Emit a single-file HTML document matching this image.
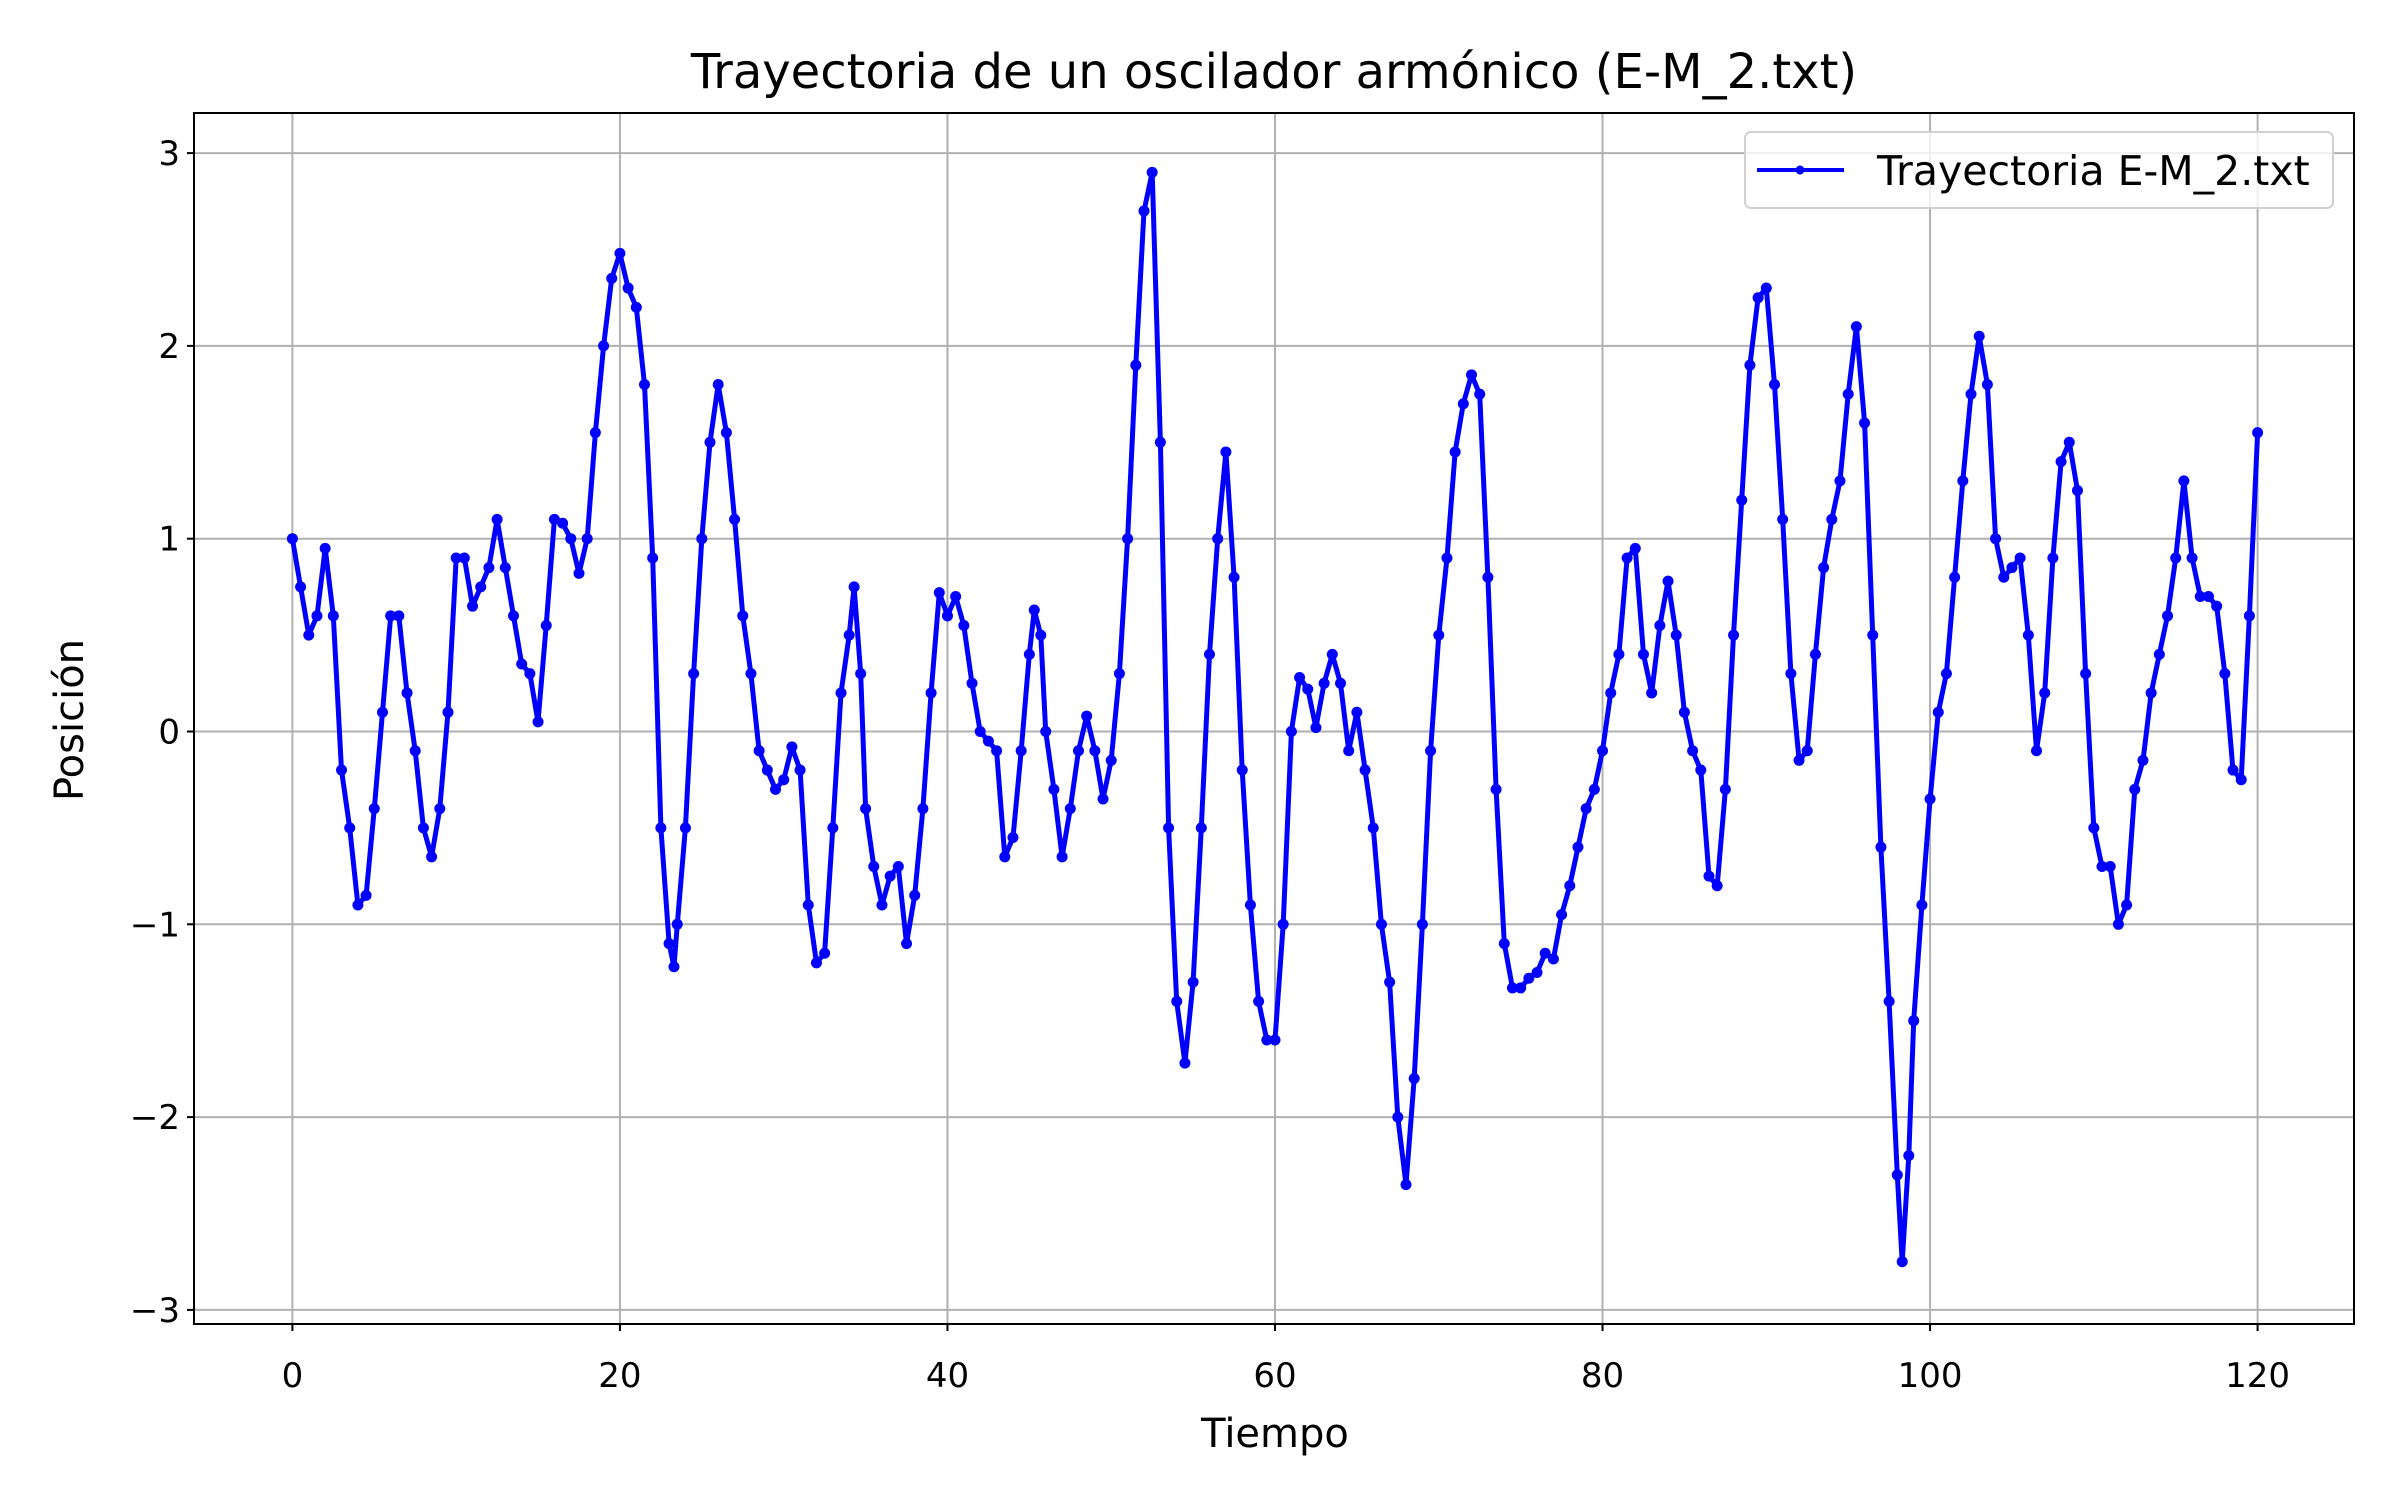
<!DOCTYPE html>
<html><head><meta charset="utf-8"><style>
body{margin:0;background:#fff}
svg{display:block;font-family:"DejaVu Sans","Liberation Sans",sans-serif}
</style></head><body>
<svg id="chart" width="2400" height="1500" viewBox="0 0 2400 1500">
<rect x="0" y="0" width="2400" height="1500" fill="#fff"/>
<g id="grid"></g>
<g id="series"></g>
<rect x="194" y="113" width="2160" height="1211" fill="none" stroke="#000" stroke-width="2"/>
<g id="ticks"></g>
<text x="1274" y="88" font-size="48" text-anchor="middle">Trayectoria de un oscilador armónico (E-M_2.txt)</text>
<text x="1275" y="1447" font-size="40" text-anchor="middle">Tiempo</text>
<text x="0" y="0" font-size="40" text-anchor="middle" transform="translate(83,720) rotate(-90)">Posición</text>
<g>
<rect x="1745" y="132" width="588" height="76" rx="6" fill="#fff" fill-opacity="0.8" stroke="#d0d0d0" stroke-width="2"/>
<line x1="1757" y1="170" x2="1844" y2="170" stroke="#0000ff" stroke-width="4"/>
<circle cx="1800" cy="170" r="4.5" fill="#0000ff"/>
<text x="1877" y="185" font-size="41">Trayectoria E-M_2.txt</text>
</g>
</svg>
<script>
const times=[0,0.5,1,1.5,2,2.5,3,3.5,4,4.5,5,5.5,6,6.5,7,7.5,8,8.5,9,9.5,10,10.5,11,11.5,12,12.5,13,13.5,14,14.5,15,15.5,16,16.5,17,17.5,18,18.5,19,19.5,20,20.5,21,21.5,22,22.5,23,23.3,23.5,24,24.5,25,25.5,26,26.5,27,27.5,28,28.5,29,29.5,30,30.5,31,31.5,32,32.5,33,33.5,34,34.3,34.7,35,35.5,36,36.5,37,37.5,38,38.5,39,39.5,40,40.5,41,41.5,42,42.5,43,43.5,44,44.5,45,45.3,45.7,46,46.5,47,47.5,48,48.5,49,49.5,50,50.5,51,51.5,52,52.5,53,53.5,54,54.5,55,55.5,56,56.5,57,57.5,58,58.5,59,59.5,60,60.5,61,61.5,62,62.5,63,63.5,64,64.5,65,65.5,66,66.5,67,67.5,68,68.5,69,69.5,70,70.5,71,71.5,72,72.5,73,73.5,74,74.5,75,75.5,76,76.5,77,77.5,78,78.5,79,79.5,80,80.5,81,81.5,82,82.5,83,83.5,84,84.5,85,85.5,86,86.5,87,87.5,88,88.5,89,89.5,90,90.5,91,91.5,92,92.5,93,93.5,94,94.5,95,95.5,96,96.5,97,97.5,98,98.3,98.7,99,99.5,100,100.5,101,101.5,102,102.5,103,103.5,104,104.5,105,105.5,106,106.5,107,107.5,108,108.5,109,109.5,110,110.5,111,111.5,112,112.5,113,113.5,114,114.5,115,115.5,116,116.5,117,117.5,118,118.5,119,119.5,120];
const positions=[1.0,0.75,0.5,0.6,0.95,0.6,-0.2,-0.5,-0.9,-0.85,-0.4,0.1,0.6,0.6,0.2,-0.1,-0.5,-0.65,-0.4,0.1,0.9,0.9,0.65,0.75,0.85,1.1,0.85,0.6,0.35,0.3,0.05,0.55,1.1,1.08,1.0,0.82,1.0,1.55,2.0,2.35,2.48,2.3,2.2,1.8,0.9,-0.5,-1.1,-1.22,-1.0,-0.5,0.3,1.0,1.5,1.8,1.55,1.1,0.6,0.3,-0.1,-0.2,-0.3,-0.25,-0.08,-0.2,-0.9,-1.2,-1.15,-0.5,0.2,0.5,0.75,0.3,-0.4,-0.7,-0.9,-0.75,-0.7,-1.1,-0.85,-0.4,0.2,0.72,0.6,0.7,0.55,0.25,0.0,-0.05,-0.1,-0.65,-0.55,-0.1,0.4,0.63,0.5,0.0,-0.3,-0.65,-0.4,-0.1,0.08,-0.1,-0.35,-0.15,0.3,1.0,1.9,2.7,2.9,1.5,-0.5,-1.4,-1.72,-1.3,-0.5,0.4,1.0,1.45,0.8,-0.2,-0.9,-1.4,-1.6,-1.6,-1.0,0.0,0.28,0.22,0.02,0.25,0.4,0.25,-0.1,0.1,-0.2,-0.5,-1.0,-1.3,-2.0,-2.35,-1.8,-1.0,-0.1,0.5,0.9,1.45,1.7,1.85,1.75,0.8,-0.3,-1.1,-1.33,-1.33,-1.28,-1.25,-1.15,-1.18,-0.95,-0.8,-0.6,-0.4,-0.3,-0.1,0.2,0.4,0.9,0.95,0.4,0.2,0.55,0.78,0.5,0.1,-0.1,-0.2,-0.75,-0.8,-0.3,0.5,1.2,1.9,2.25,2.3,1.8,1.1,0.3,-0.15,-0.1,0.4,0.85,1.1,1.3,1.75,2.1,1.6,0.5,-0.6,-1.4,-2.3,-2.75,-2.2,-1.5,-0.9,-0.35,0.1,0.3,0.8,1.3,1.75,2.05,1.8,1.0,0.8,0.85,0.9,0.5,-0.1,0.2,0.9,1.4,1.5,1.25,0.3,-0.5,-0.7,-0.7,-1.0,-0.9,-0.3,-0.15,0.2,0.4,0.6,0.9,1.3,0.9,0.7,0.7,0.65,0.3,-0.2,-0.25,0.6,1.55];
const xTicks=[0,20,40,60,80,100,120];
const yTicks=[-3,-2,-1,0,1,2,3];
const yTickLabels=["\u22123","\u22122","\u22121","0","1","2","3"];

const X0=194,X1=2354,Y0=113,Y1=1324;
function sx(t){return 292.4+(t-0)*(2257.6-292.4)/120;}
function sy(v){return 731.5-v*192.8;}
const NS="http://www.w3.org/2000/svg";
function mk(tag,attrs,parent){const e=document.createElementNS(NS,tag);for(const k in attrs)e.setAttribute(k,attrs[k]);parent.appendChild(e);return e;}
const grid=document.getElementById('grid'),ticks=document.getElementById('ticks'),series=document.getElementById('series');
xTicks.forEach((t,i)=>{
  const x=sx(t);
  const g=mk('line',{x1:x,y1:Y0,x2:x,y2:Y1,stroke:'#b0b0b0','stroke-width':2},grid);
  
  
  const tk=mk('line',{x1:x,y1:Y1,x2:x,y2:Y1+7,stroke:'#000','stroke-width':2},ticks);
  
  
  const lb=mk('text',{x:x,y:Y1+63,'font-size':34,'text-anchor':'middle'},ticks);
  lb.textContent=String(t);
  
  
});
yTicks.forEach((v,i)=>{
  const y=sy(v);
  const g=mk('line',{x1:X0,y1:y,x2:X1,y2:y,stroke:'#b0b0b0','stroke-width':2},grid);
  
  
  const tk=mk('line',{x1:X0-7,y1:y,x2:X0,y2:y,stroke:'#000','stroke-width':2},ticks);
  
  
  const lb=mk('text',{x:X0-14,y:y+12,'font-size':34,'text-anchor':'end'},ticks);
  lb.textContent=yTickLabels[i];
  
  
});
const pts=times.map((t,i)=>sx(t).toFixed(1)+','+sy(positions[i]).toFixed(1)).join(' ');
const pl=mk('polyline',{points:pts,fill:'none',stroke:'#0000ff','stroke-width':5,'stroke-linejoin':'round'},series);


times.forEach((t,i)=>{
  const c=mk('circle',{cx:sx(t),cy:sy(positions[i]),r:5.5,fill:'#0000ff'},series);
  
  
});
</script>
</body></html>
